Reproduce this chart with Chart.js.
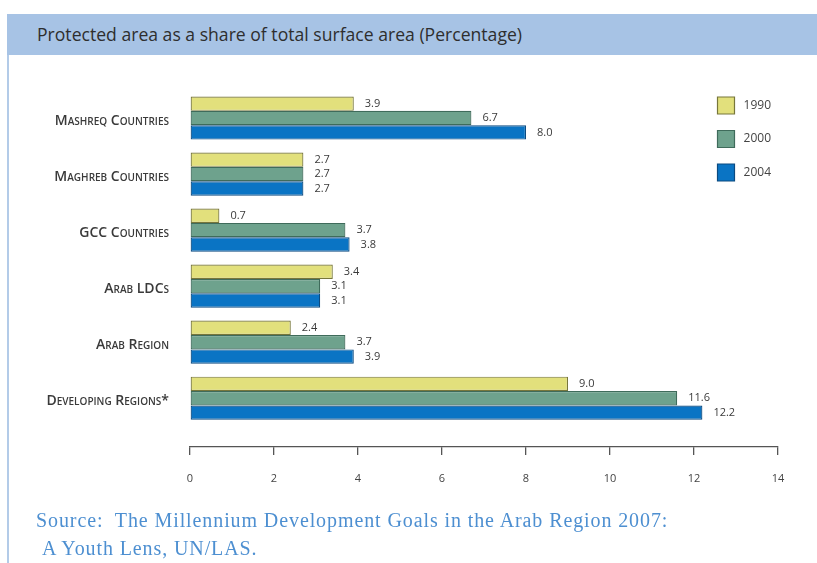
<!DOCTYPE html>
<html>
<head>
<meta charset="utf-8">
<script src="https://cdn.jsdelivr.net/npm/chart.js@4.4.1/dist/chart.umd.min.js"></script>
<style>
  body { margin: 0; background: #fff; width: 817px; height: 563px; position: relative; overflow: hidden; }
  #rule { position: absolute; left: 7px; top: 14px; width: 2px; height: 549px; background: #b3cbe8; }
  #head { position: absolute; left: 7px; top: 14px; right: 0; height: 41px; background: #a7c3e5; }
  #head span { position: absolute; left: 30px; top: 8px; font: 17.6px "Open Sans"; color: #2e2e2e; }
  #chart { position: absolute; left: 0; top: 0; }
  #source { position: absolute; left: 36px; top: 506px; font: 20px "Liberation Serif"; letter-spacing: 0.9px; line-height: 28px; color: #4d8fd1; }
</style>
</head>
<body>
<div id="rule"></div>
<div id="head"><span>Protected area as a share of total surface area (Percentage)</span></div>
<canvas id="chart" width="817" height="563"></canvas>
<div id="source">Source:&nbsp; The Millennium Development Goals in the Arab Region 2007:<br>&nbsp;A Youth Lens, UN/LAS.</div>
<script>
const categories = ['Mashreq Countries', 'Maghreb Countries', 'GCC Countries', 'Arab LDCs', 'Arab Region', 'Developing Regions*'];
const years = ['1990', '2000', '2004'];
const values1990 = [3.9, 2.7, 0.7, 3.4, 2.4, 9.0];
const values2000 = [6.7, 2.7, 3.7, 3.1, 3.7, 11.6];
const values2004 = [8.0, 2.7, 3.8, 3.1, 3.9, 12.2];
const xTicks = [0, 2, 4, 6, 8, 10, 12, 14];

const fills = ['#e2e07c', '#6ea28d', '#0a74c4'];
const edges = ['#77763a', '#3f6b5b', '#0b4a80'];

const series = [values1990, values2000, values2004];

const valueLabels = {
    id: 'valueLabels',
    afterDatasetsDraw(chart) {
        const ctx = chart.ctx;
        ctx.save();
        ctx.font = '11px "Open Sans"';
        ctx.fillStyle = '#3a3a3a';
        ctx.textBaseline = 'middle';
        chart.data.datasets.forEach((ds, i) => {
            chart.getDatasetMeta(i).data.forEach((bar, j) => {
                ctx.fillText(series[i][j].toFixed(1), bar.x + 11, bar.y);
            });
        });
        ctx.restore();
    }
};

// legend sits inside the plot, top right
const legendSpot = {
    id: 'legendSpot',
    afterLayout(chart) {
        const lg = chart.legend;
        const w = lg.width, h = lg.height;
        lg.left = 701; lg.right = lg.left + w;
        lg.top = 80.5; lg.bottom = lg.top + h;
    }
};

new Chart(document.getElementById('chart'), {
    type: 'bar',
    data: {
        datasets: series.map((vals, i) => ({
            label: years[i],
            data: vals.map((v, k) => ({ x: v, y: k })),
            backgroundColor: fills[i],
            borderColor: edges[i],
            borderWidth: 1.2,
            borderSkipped: false,
            categoryPercentage: 0.77,
            barPercentage: 1
        }))
    },
    options: {
        indexAxis: 'y',
        responsive: false,
        animation: false,
        layout: { padding: { top: 90, left: 0, right: 39, bottom: 76 } },
        scales: {
            x: {
                type: 'linear',
                min: 0,
                max: 14,
                afterBuildTicks: s => { s.ticks = xTicks.map(v => ({ value: v })); },
                afterFit: s => { s.height = 40; },
                grid: { drawOnChartArea: false, drawTicks: true, tickLength: 8, color: '#555', lineWidth: 1.3 },
                border: { display: true, color: '#555', width: 1.3 },
                ticks: { padding: 17, color: '#444', font: { family: 'Open Sans', size: 11 } }
            },
            y: {
                type: 'linear',
                reverse: true,
                offset: false,
                min: -0.5,
                max: 5.87,
                afterBuildTicks: s => { s.ticks = categories.map((c, i) => ({ value: i })); },
                afterFit: s => { s.width = 190; },
                grid: { display: false, drawTicks: false, offset: false },
                border: { display: false },
                ticks: {
                    padding: 21,
                    labelOffset: 3,
                    color: '#3a3a3a',
                    font: { family: 'Open Sans', size: 14, weight: 'small-caps 600' },
                    callback: v => categories[v]
                }
            }
        },
        plugins: {
            legend: {
                position: 'chartArea',
                align: 'start',
                labels: {
                    boxWidth: 17,
                    boxHeight: 17,
                    padding: 16.5,
                    color: '#444',
                    font: { family: 'Open Sans', size: 12 },
                    generateLabels: chart => Chart.defaults.plugins.legend.labels.generateLabels(chart)
                        .map(l => Object.assign(l, { text: ' ' + l.text }))
                }
            },
            tooltip: { enabled: false }
        }
    },
    plugins: [valueLabels, legendSpot]
});
</script>
</body>
</html>
